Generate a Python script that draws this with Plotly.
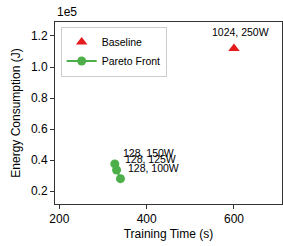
import plotly.graph_objects as go

baseline_time = [600]
baseline_energy = [112000]
baseline_labels = ["1024, 250W"]

pareto_time = [327, 331, 340]
pareto_energy = [37600, 33700, 28100]
pareto_labels = ["128, 150W", "128, 125W", "128, 100W"]

y_tick_vals = [20000, 40000, 60000, 80000, 100000, 120000]
y_tick_text = ["0.2", "0.4", "0.6", "0.8", "1.0", "1.2"]
x_tick_vals = [200, 400, 600]

RED = "#e41a1c"
GREEN = "#4daf4a"
FONT = "Liberation Sans, Arial, sans-serif"

fig = go.Figure()
fig.add_trace(go.Scatter(
    x=baseline_time, y=baseline_energy, mode="markers", name="Baseline",
    marker=dict(symbol="triangle-up", size=10, color=RED),
))
fig.add_trace(go.Scatter(
    x=pareto_time, y=pareto_energy, mode="lines+markers", name="Pareto Front",
    marker=dict(symbol="circle", size=9, color=GREEN),
    line=dict(color=GREEN, width=2),
))

for x, y, t in zip(baseline_time, baseline_energy, baseline_labels):
    fig.add_annotation(x=x, y=y, text=t, showarrow=False, xanchor="center",
                       yanchor="bottom", xshift=7, yshift=8,
                       font=dict(size=10.5, color="black", family=FONT))
for x, y, t in zip(pareto_time, pareto_energy, pareto_labels):
    fig.add_annotation(x=x, y=y, text=t, showarrow=False, xanchor="left",
                       yanchor="bottom", xshift=6, yshift=3,
                       font=dict(size=10.5, color="black", family=FONT))

fig.add_annotation(x=0, y=1, xref="paper", yref="paper", text="1e5",
                   showarrow=False, xanchor="left", yanchor="bottom", yshift=1,
                   font=dict(size=12, color="black", family=FONT))

axis_common = dict(showgrid=False, zeroline=False, showline=True, linecolor="#333",
                   linewidth=1, mirror=True, ticks="outside", ticklen=4,
                   tickcolor="#333", automargin=False,
                   tickfont=dict(size=12, color="black", family=FONT))

fig.update_xaxes(range=[190, 710], tickvals=x_tick_vals,
                 title=dict(text="Training Time (s)", font=dict(size=12, color="black", family=FONT), standoff=4),
                 **axis_common)
fig.update_yaxes(range=[11800, 129000], tickvals=y_tick_vals, ticktext=y_tick_text,
                 title=dict(text="Energy Consumption (J)", font=dict(size=12, color="black", family=FONT), standoff=7),
                 **axis_common)

fig.update_layout(
    width=283, height=246,
    margin=dict(l=55, r=1, t=22, b=42),
    plot_bgcolor="white", paper_bgcolor="white",
    font=dict(family=FONT, color="black"),
    legend=dict(x=0.025, y=0.975, xanchor="left", yanchor="top",
                bgcolor="white", bordercolor="#cccccc", borderwidth=1,
                font=dict(size=10.5, color="black", family=FONT),
                itemwidth=30, tracegroupgap=0),
    showlegend=True,
)

fig.write_html("out.html", config={"displayModeBar": False},
               post_script="document.body.style.margin='0';")
